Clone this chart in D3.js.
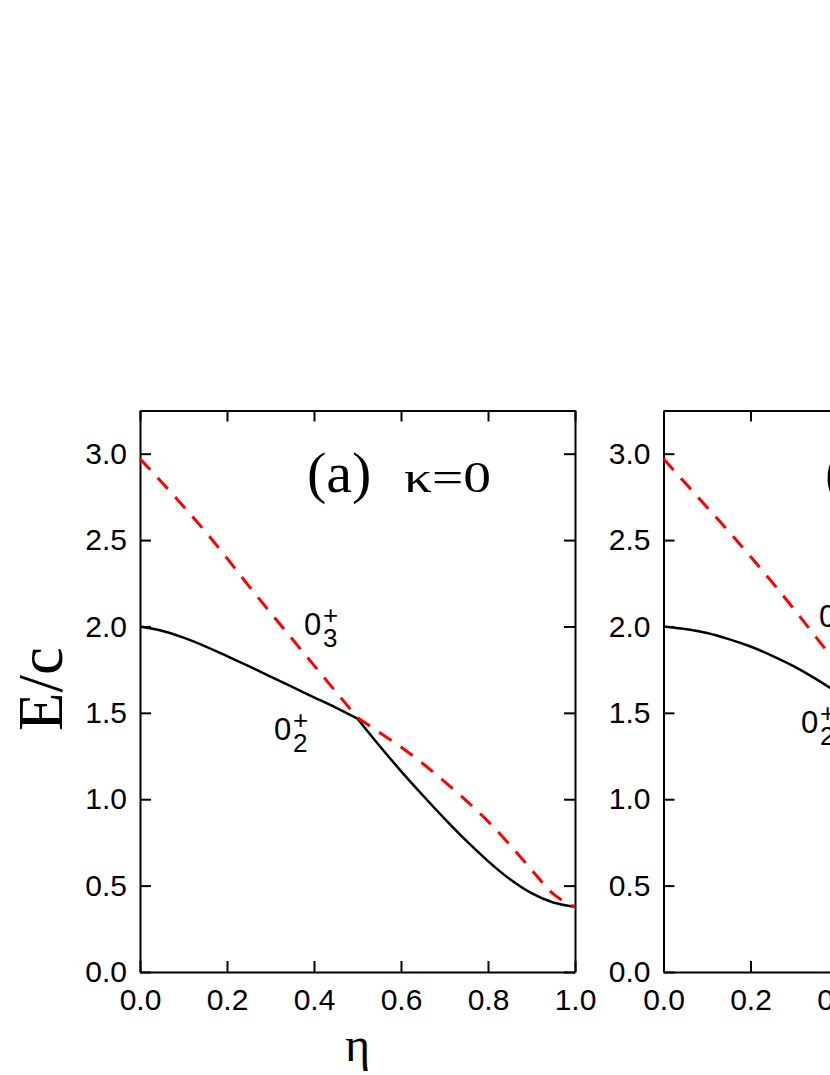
<!DOCTYPE html>
<html>
<head>
<meta charset="utf-8">
<script src="https://cdn.jsdelivr.net/npm/d3@7"></script>
<style>
  body { margin: 0; background: #fff; }
  svg { display: block; }
</style>
</head>
<body>
<script>
// panel (a), kappa = 0, eta from 0 to 1
const etaA = [0, 0.05, 0.1, 0.15, 0.2, 0.25, 0.3, 0.35, 0.4, 0.45, 0.5,
  0.55, 0.6, 0.65, 0.7, 0.75, 0.8, 0.85, 0.9, 0.95, 1.0];
const zero2A = [2.0, 1.975, 1.935, 1.885, 1.828, 1.77, 1.71, 1.65, 1.59, 1.53, 1.466,
  1.311, 1.163, 1.023, 0.888, 0.76, 0.642, 0.538, 0.456, 0.402, 0.378];
const zero3A = [2.97, 2.835, 2.695, 2.55, 2.395, 2.235, 2.08, 1.927, 1.775, 1.623, 1.472,
  1.387, 1.302, 1.207, 1.102, 0.992, 0.872, 0.737, 0.592, 0.452, 0.377];

// panel (b), only the left part is visible
const etaB = [0, 0.05, 0.1, 0.15, 0.2, 0.25, 0.3, 0.35, 0.4, 0.45];
const zero2B = [2.0, 1.985, 1.962, 1.927, 1.884, 1.83, 1.769, 1.697, 1.616, 1.525];
const zero3B = [2.97, 2.83, 2.69, 2.55, 2.405, 2.255, 2.1, 1.94, 1.78, 1.62];

const xTicks = [0, 0.2, 0.4, 0.6, 0.8, 1.0];
const yTicks = [0, 0.5, 1.0, 1.5, 2.0, 2.5, 3.0];
const kink = 0.5;

const w = 830;
const h = 1075;
const plotTop = 410.5;
const plotBottom = 972;
const pw = 435;

const svg = d3.select("body").append("svg").attr("width", w).attr("height", h);
svg.append("rect").attr("width", w).attr("height", h).attr("fill", "#fff");

const y = d3.scaleLinear().domain([0, 3.25]).range([plotBottom, plotTop]);
const fmt = d3.format(".1f");
const sans = "'Liberation Sans', Arial, sans-serif";
const serif = "'Liberation Serif', 'Times New Roman', serif";

// "0" with a "+" above and the level index below, as one text
function stateLabel(g, x0, y0, sub) {
  const t = g.append("text").attr("font-family", sans).attr("fill", "#000")
    .attr("x", x0).attr("y", y0).attr("font-size", 31);
  t.append("tspan").text("0");
  t.append("tspan").attr("x", x0 + 19).attr("y", y0 - 11.5).attr("font-size", 26).text("+");
  t.append("tspan").attr("x", x0 + 19).attr("y", y0 + 11.5).attr("font-size", 26).text(sub);
}

function panel(left, etas, s2, s3) {
  const x = d3.scaleLinear().domain([0, 1]).range([left, left + pw]);
  const g = svg.append("g");

  const axes = [
    [d3.axisBottom(x).tickValues(xTicks).tickFormat(fmt).tickPadding(17), `translate(0,${plotBottom})`],
    [d3.axisLeft(y).tickValues(yTicks).tickFormat(fmt).tickPadding(13), `translate(${left},0)`],
    [d3.axisTop(x).tickValues(xTicks).tickFormat(""), `translate(0,${plotTop})`],
    [d3.axisRight(y).tickValues(yTicks).tickFormat(""), `translate(${left + pw},0)`],
  ];
  axes.forEach(([ax, tr]) => {
    const a = g.append("g").attr("transform", tr)
      .call(ax.tickSizeInner(-11).tickSizeOuter(0));
    a.selectAll("path, line").attr("stroke", "#000").attr("stroke-width", 2);
    a.selectAll("text").attr("font-family", sans).attr("font-size", 30).attr("fill", "#000");
  });

  const line = d3.line()
    .x((d) => x(d[0]))
    .y((d) => y(d[1]))
    .curve(d3.curveMonotoneX);

  // both levels bend where they meet, so draw each side separately
  const pieces = (vals) => {
    const pts = etas.map((e, i) => [e, vals[i]]);
    return [pts.filter((p) => p[0] <= kink), pts.filter((p) => p[0] >= kink)]
      .filter((p) => p.length > 1);
  };

  g.append("path")
    .attr("d", pieces(s2).map(line).join(""))
    .attr("fill", "none")
    .attr("stroke", "#000").attr("stroke-width", 2.5);

  g.append("path")
    .attr("d", pieces(s3).map(line).join(""))
    .attr("fill", "none")
    .attr("stroke", "#ff0000").attr("stroke-width", 3)
    .attr("stroke-dasharray", "15,11");

  return g;
}

const ga = panel(140, etaA, zero2A, zero3A);
const gb = panel(663.5, etaB, zero2B, zero3B);

// panel titles
ga.append("text").attr("x", 307).attr("y", 492)
  .attr("font-family", serif).attr("font-size", 58).text("(a)");
ga.append("text").attr("x", 404).attr("y", 492)
  .attr("font-family", serif).attr("font-size", 45)
  .attr("textLength", 87).attr("lengthAdjust", "spacingAndGlyphs").text("κ=0");
gb.append("text").attr("x", 825).attr("y", 492)
  .attr("font-family", serif).attr("font-size", 58).text("(b)");

stateLabel(ga, 304, 635, "3");
stateLabel(ga, 274, 740, "2");
stateLabel(gb, 819, 627, "3");
stateLabel(gb, 801, 733, "2");

// axis titles
svg.append("text")
  .attr("transform", "translate(62,689) rotate(-90)")
  .attr("text-anchor", "middle")
  .attr("font-family", serif).attr("font-size", 63)
  .text("E/c");

svg.append("text")
  .attr("x", 357.5).attr("y", 1061)
  .attr("text-anchor", "middle")
  .attr("font-family", serif).attr("font-size", 48)
  .text("η");
</script>
</body>
</html>
